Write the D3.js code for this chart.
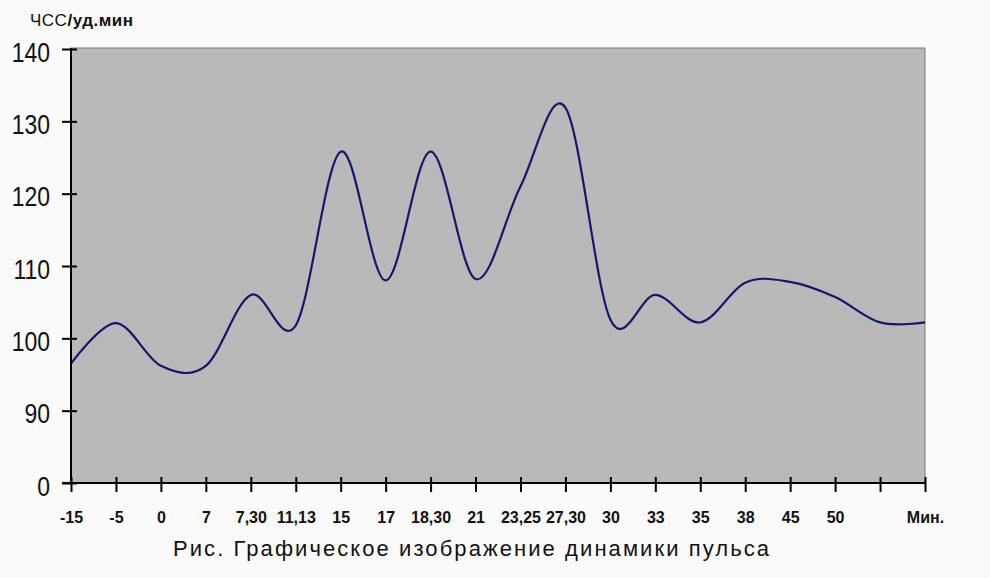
<!DOCTYPE html>
<html>
<head>
<meta charset="utf-8">
<script src="https://cdn.jsdelivr.net/npm/d3@7"></script>
<style>
  html, body { margin: 0; padding: 0; background: #fafafa; }
  svg { display: block; }
</style>
</head>
<body>
<svg id="chart" width="990" height="578"></svg>
<script>
const xLabels = ["-15","-5","0","7","7,30","11,13","15","17","18,30","21","23,25","27,30","30","33","35","38","45","50","","Мин."];
const hrValues = [96.5,102.1,96.2,96.2,106.0,101.8,125.8,108.0,125.8,108.2,121.0,131.9,102.6,106.0,102.2,107.7,107.8,105.7,102.2,102.2];
const yTickValues = [80,90,100,110,120,130,140];
const yTickLabels = ["0","90","100","110","120","130","140"];
const yAxisTitle = ["ЧСС", "/уд.мин"];
const caption = "Рис. Графическое изображение динамики пульса";

(function () {
const svg = d3.select("#chart");
const pL = 71, pR = 925, pT = 49, pB = 483;

const x = d3.scalePoint().domain(d3.range(xLabels.length)).range([pL, pR]);
const y = d3.scaleLinear().domain([80, 140]).range([pB, pT]);

svg.append("rect").attr("width", 990).attr("height", 578).attr("fill", "#fafafa");

// plot area
svg.append("rect")
  .attr("x", pL).attr("y", pT - 1)
  .attr("width", pR - pL).attr("height", pB - pT + 1)
  .attr("fill", "#b9b9b9").attr("stroke", "#7a7a7a").attr("stroke-width", 1);

// line
const line = d3.line()
  .x((d, i) => x(i))
  .y(d => y(d))
  .curve(d3.curveCardinal.tension(0));

svg.append("path")
  .datum(hrValues)
  .attr("d", line)
  .attr("fill", "none")
  .attr("stroke", "#16166e")
  .attr("stroke-width", 2.2)
  .attr("stroke-linejoin", "round");

// y axis
const yAxis = d3.axisLeft(y)
  .tickValues(yTickValues)
  .tickFormat((d, i) => yTickLabels[i])
  .tickSize(9).tickPadding(0);
const gy = svg.append("g").attr("transform", `translate(${pL},0)`).call(yAxis);
gy.select(".domain").remove();
gy.selectAll(".tick line").attr("x1", 6).attr("x2", -9).attr("stroke", "#000").attr("stroke-width", 2);
gy.selectAll(".tick text")
  .attr("x", null).attr("dy", null)
  .attr("transform", "translate(-21,12) scale(0.82,1)")
  .attr("text-anchor", "end")
  .attr("font-family", "Liberation Sans, Arial, sans-serif")
  .attr("font-size", 28)
  .attr("fill", "#111");

// x axis
const xAxis = d3.axisBottom(x)
  .tickFormat(i => xLabels[i])
  .tickSize(9).tickPadding(0);
const gx = svg.append("g").attr("transform", `translate(0,${pB})`).call(xAxis);
gx.select(".domain").remove();
gx.selectAll(".tick line").attr("y1", -6).attr("y2", 9).attr("stroke", "#000").attr("stroke-width", 2);
gx.selectAll(".tick text")
  .attr("y", 40).attr("dy", null)
  .attr("font-family", "Liberation Sans, Arial, sans-serif")
  .attr("font-weight", "bold")
  .attr("font-size", 16)
  .attr("fill", "#111");

// axis lines
svg.append("line").attr("x1", pL).attr("x2", pL).attr("y1", pT - 1).attr("y2", pB + 1)
  .attr("stroke", "#000").attr("stroke-width", 2);
svg.append("line").attr("x1", 62).attr("x2", pR + 1).attr("y1", pB).attr("y2", pB)
  .attr("stroke", "#000").attr("stroke-width", 2);

// y title
const yt = svg.append("text")
  .attr("x", 30).attr("y", 26)
  .attr("font-family", "Liberation Sans, Arial, sans-serif")
  .attr("font-size", 17)
  .attr("fill", "#111")
  .attr("textLength", 103).attr("lengthAdjust", "spacing");
yt.append("tspan").text(yAxisTitle[0]);
yt.append("tspan").attr("font-weight", "bold").text(yAxisTitle[1]);

// caption
svg.append("text")
  .attr("x", 471).attr("y", 556)
  .attr("text-anchor", "middle")
  .attr("font-family", "Liberation Sans, Arial, sans-serif")
  .attr("font-size", 22)
  .attr("fill", "#111")
  .attr("textLength", 596).attr("lengthAdjust", "spacing")
  .text(caption);
})();
</script>
</body>
</html>
